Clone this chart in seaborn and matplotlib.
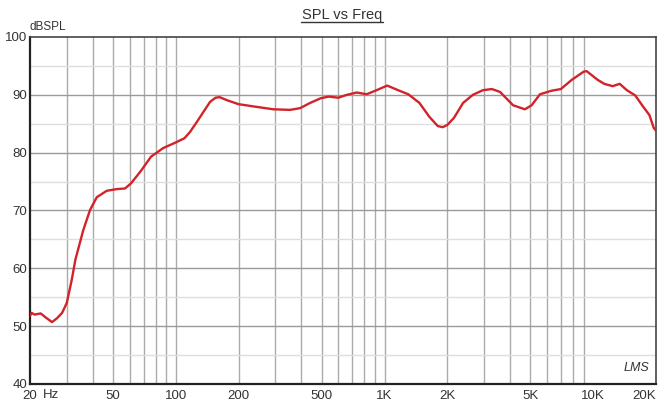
import numpy as np
import pandas as pd
import seaborn as sns
import matplotlib
matplotlib.use("Agg")
import matplotlib.pyplot as plt
from matplotlib.ticker import FixedLocator, NullFormatter

# frequency response (Hz, dB SPL)
freq = [20, 20.4, 21, 22.5, 24, 25.5, 27, 28.5, 30, 31.7, 33, 36, 38.8, 41.8,
        46.6, 52, 57, 61, 64.5, 68.5, 76, 87, 99, 110, 117, 126, 137, 146,
        155, 162, 175, 199, 235, 293, 353, 394, 440, 494, 540, 600, 660, 737,
        821, 916, 1030, 1180, 1300, 1470, 1640, 1800, 1900, 2000, 2150, 2380,
        2650, 2960, 3270, 3580, 4130, 4710, 5070, 5560, 6300, 7000, 7900,
        9000, 9300, 10500, 11300, 12400, 13400, 14500, 15900, 17400, 18600,
        19500, 20000]
spl = [51.8, 52.3, 52.0, 52.2, 51.4, 50.7, 51.4, 52.3, 54.0, 58.0, 61.5, 66.6,
       70.1, 72.3, 73.4, 73.7, 73.8, 74.7, 75.8, 77.0, 79.3, 80.8, 81.7, 82.5,
       83.6, 85.3, 87.3, 88.8, 89.5, 89.6, 89.1, 88.4, 88.0, 87.5, 87.4, 87.7,
       88.6, 89.4, 89.7, 89.5, 90.0, 90.4, 90.1, 90.8, 91.6, 90.7, 90.1, 88.6,
       86.2, 84.6, 84.4, 84.8, 86.0, 88.6, 90.0, 90.8, 91.0, 90.5, 88.2, 87.5,
       88.2, 90.1, 90.7, 91.0, 92.6, 94.0, 94.1, 92.6, 91.9, 91.5, 91.9, 90.8,
       89.9, 87.9, 86.5, 84.3, 83.8]

xtick_vals = [20, 50, 100, 200, 500, 1000, 2000, 5000, 10000, 20000]
xtick_labels = ["20", "50", "100", "200", "500", "1K", "2K", "5K", "10K", "20K"]
ytick_vals = [40, 50, 60, 70, 80, 90, 100]

df = pd.DataFrame({"freq": freq, "spl": spl})

sns.set_style("white")
plt.rcParams["font.family"] = ["Liberation Sans", "DejaVu Sans"]

fig = plt.figure(figsize=(6.65, 4.01), dpi=100)
ax = fig.add_axes([30 / 665, 1 - 384 / 401, 626 / 665, 347 / 401])

# grid first so the curve sits on top
vgrid = [m * d for d in (10, 100, 1000) for m in range(1, 10) if 20 < m * d < 20000]
for f in vgrid:
    ax.axvline(f, color="#ababab", lw=1.0, zorder=1)
for v in range(45, 100, 10):
    ax.axhline(v, color="#dedede", lw=1.0, zorder=1)
for v in range(50, 100, 10):
    ax.axhline(v, color="#9a9a9a", lw=1.0, zorder=1)

sns.lineplot(data=df, x="freq", y="spl", color="#d2232a", lw=1.7, ax=ax, zorder=3)

ax.set_xscale("log")
ax.set_xlim(20, 20000)
ax.set_ylim(40, 100)
ax.xaxis.set_major_locator(FixedLocator(xtick_vals))
ax.set_xticklabels(xtick_labels)
ax.xaxis.set_minor_formatter(NullFormatter())
ax.set_yticks(ytick_vals)
ax.tick_params(axis="both", which="both", length=0, labelsize=9.5,
               colors="#333333", pad=2)
ax.tick_params(axis="x", pad=4)
ax.get_xticklabels()[-1].set_horizontalalignment("right")
ax.set_xlabel("")
ax.set_ylabel("")

for side in ["left", "bottom"]:
    ax.spines[side].set_linewidth(1.6)
    ax.spines[side].set_color("#222222")
for side in ["top", "right"]:
    ax.spines[side].set_linewidth(1.2)
    ax.spines[side].set_color("#444444")

ax.text(23.0, -0.015, "Hz", transform=ax.get_xaxis_transform(), ha="left",
        va="top", fontsize=9.5, color="#333333")
ax.text(0.0, 1.012, "dBSPL", transform=ax.transAxes, ha="left", va="bottom",
        fontsize=8.5, color="#333333")
ax.text(0.99, 0.03, "LMS", transform=ax.transAxes, ha="right", va="bottom",
        fontsize=9, style="italic", color="#333333")

fig.text(342 / 665, 1 - 15 / 401, "SPL vs Freq", ha="center", va="center",
         fontsize=10.5, color="#333333")
fig.add_artist(plt.Line2D([301 / 665, 383 / 665], [1 - 22 / 401, 1 - 22 / 401],
                          color="#333333", lw=1.0))

fig.savefig("out.png", dpi=100)
